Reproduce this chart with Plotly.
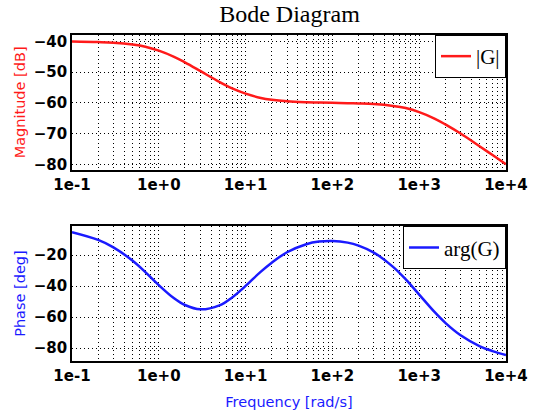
import plotly.graph_objects as go
from plotly.subplots import make_subplots

# frequency points [rad/s] and values
freq = [0.1, 0.2, 0.3, 0.5, 0.7, 1, 1.5, 2, 3, 5, 7, 10, 15, 20, 30, 50, 70,
        100, 150, 200, 300, 500, 700, 1000, 1500, 2000, 3000, 5000, 7000, 10000]
mag_db = [-40.0, -40.2, -40.4, -41.0, -41.7, -43.0, -45.0, -46.8, -49.6, -53.2,
          -55.3, -57.0, -58.4, -59.0, -59.5, -59.8, -59.9, -60.0, -60.1, -60.2,
          -60.4, -61.0, -61.7, -63.0, -65.1, -67.0, -70.0, -74.2, -77.0, -80.0]
phase_deg = [-5.2, -10.2, -15.0, -23.7, -31.0, -39.4, -47.9, -52.2, -55.0, -52.4,
             -47.3, -39.9, -30.7, -24.9, -18.2, -13.0, -11.3, -10.9, -12.0, -13.9,
             -18.4, -27.6, -35.7, -45.5, -56.7, -63.7, -71.7, -78.8, -81.9, -84.4]

xtick_vals = [0.1, 1, 10, 100, 1000, 10000]
xtick_text = ["1e-1", "1e+0", "1e+1", "1e+2", "1e+3", "1e+4"]
mag_ticks = [-40, -50, -60, -70, -80]
phase_ticks = [-20, -40, -60, -80]

RED = "#ff1a1a"
BLUE = "#1a1aff"

fig = make_subplots(rows=2, cols=1, vertical_spacing=0.173)

fig.add_trace(go.Scatter(x=freq, y=mag_db, mode="lines", name="|G|", showlegend=True,
                         line=dict(color=RED, width=2.5, shape="spline"),
                         legend="legend"), row=1, col=1)
fig.add_trace(go.Scatter(x=freq, y=phase_deg, mode="lines", name="arg(G)", showlegend=True,
                         line=dict(color=BLUE, width=2.5, shape="spline"),
                         legend="legend2"), row=2, col=1)

axfont = dict(family="DejaVu Sans", size=15, color="black", weight="bold")
grid = dict(showgrid=True, gridcolor="black", griddash="1px,3px", gridwidth=1)
for r in (1, 2):
    fig.update_xaxes(type="log", range=[-1, 4], tickvals=xtick_vals, ticktext=xtick_text,
                     tickfont=axfont, showline=True, linecolor="black", linewidth=1.5,
                     mirror=True, ticks="", zeroline=False,
                     minor=dict(dtick="D1", ticks="", **grid),
                     row=r, col=1, **grid)

fig.update_yaxes(range=[-81.8, -37.9], tickvals=mag_ticks, row=1, col=1,
                 title=dict(text="Magnitude [dB]", standoff=5,
                            font=dict(family="DejaVu Sans", size=14.5, color=RED)))
fig.update_yaxes(range=[-88.3, -1.4], tickvals=phase_ticks, row=2, col=1,
                 title=dict(text="Phase [deg]", standoff=5,
                            font=dict(family="DejaVu Sans", size=14.5, color=BLUE)))
fig.update_yaxes(tickfont=axfont, showline=True, linecolor="black", linewidth=1.5,
                 mirror=True, ticks="", zeroline=False, **grid)
fig.update_xaxes(title=dict(text="Frequency [rad/s]", standoff=13,
                            font=dict(family="DejaVu Sans", size=14.5, color=BLUE)),
                 row=2, col=1)

legfont = dict(family="Liberation Serif", size=21, color="black")
fig.update_layout(
    width=560, height=420,
    margin=dict(l=72, r=54, t=35, b=47),
    paper_bgcolor="white", plot_bgcolor="white",
    title=dict(text="Bode Diagram", x=0.517, xanchor="center", y=0.988, yanchor="top",
               font=dict(family="Liberation Serif", size=24, color="black")),
    legend=dict(x=1, xanchor="right", y=1, yanchor="top", bgcolor="white",
                bordercolor="black", borderwidth=1, font=legfont,
                itemwidth=30, tracegroupgap=0),
    legend2=dict(x=1, xanchor="right", y=0.413, yanchor="top", bgcolor="white",
                 bordercolor="black", borderwidth=1, font=legfont,
                 itemwidth=30, tracegroupgap=0),
)

# drop the browser's default page margin so the figure sits at 0,0
fig.write_html("out.html", config={"displayModeBar": False},
               post_script="document.body.style.margin = '0';")
